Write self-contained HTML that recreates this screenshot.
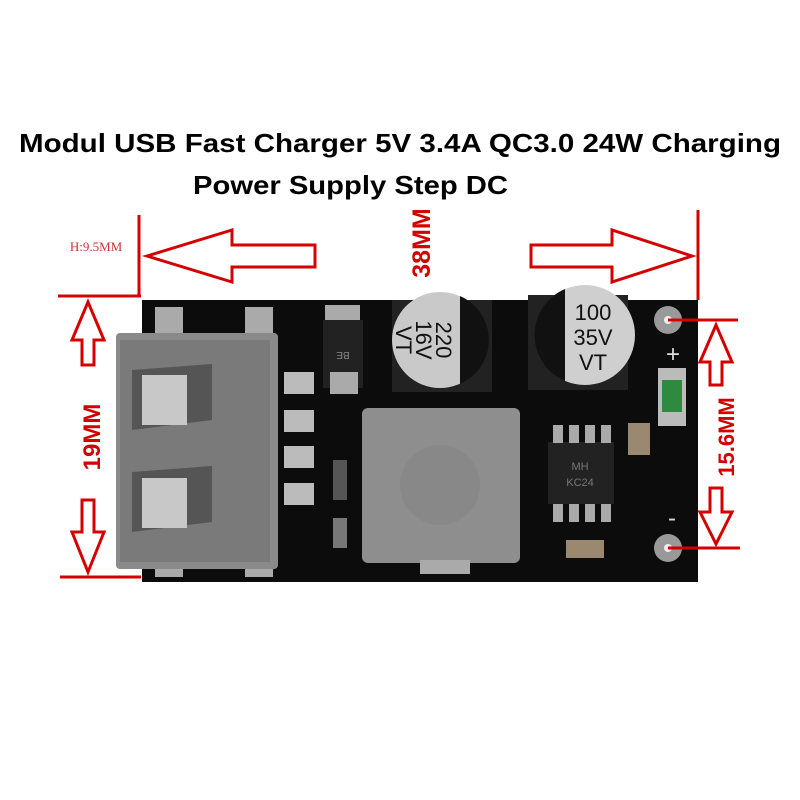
<!DOCTYPE html>
<html><head><style>
html,body{margin:0;padding:0;background:#fff;width:800px;height:800px;overflow:hidden}
</style></head><body>
<svg width="800" height="800" viewBox="0 0 800 800" xmlns="http://www.w3.org/2000/svg">
<rect width="800" height="800" fill="#fff"/>
<text x="19" y="152" textLength="762" lengthAdjust="spacingAndGlyphs" font-family="Liberation Sans, DejaVu Sans, sans-serif" font-weight="bold" font-size="26" fill="#000">Modul USB Fast Charger 5V 3.4A QC3.0 24W Charging</text>
<text x="193" y="194" textLength="315" lengthAdjust="spacingAndGlyphs" font-family="Liberation Sans, DejaVu Sans, sans-serif" font-weight="bold" font-size="26" fill="#000">Power Supply Step DC</text>

<rect x="142" y="300" width="556" height="282" fill="#0c0c0c"/>
<rect x="155" y="307" width="28" height="30" fill="#aaa"/>
<rect x="245" y="307" width="28" height="30" fill="#aaa"/>
<rect x="155" y="515" width="28" height="62" fill="#aaa"/>
<rect x="245" y="530" width="28" height="47" fill="#aaa"/>
<rect x="116" y="333" width="162" height="236" rx="4" fill="#8a8a8a"/>
<rect x="120" y="340" width="150" height="222" fill="#7a7a7a"/>
<path d="M132 370 L212 364 L212 420 L132 430 Z" fill="#555"/>
<rect x="142" y="375" width="45" height="50" fill="#c8c8c8"/>
<path d="M132 472 L212 466 L212 522 L132 532 Z" fill="#555"/>
<rect x="142" y="478" width="45" height="50" fill="#c8c8c8"/>
<rect x="284" y="372" width="30" height="22" fill="#bbb"/>
<rect x="284" y="410" width="30" height="22" fill="#bbb"/>
<rect x="284" y="446" width="30" height="22" fill="#bbb"/>
<rect x="284" y="483" width="30" height="22" fill="#bbb"/>
<rect x="325" y="305" width="35" height="22" fill="#aaa"/>
<rect x="323" y="320" width="40" height="68" fill="#222"/>
<text x="343" y="352" text-anchor="middle" font-family="Liberation Sans,sans-serif" font-size="10" fill="#888" transform="rotate(180 343 352)">BE</text>
<rect x="330" y="372" width="28" height="22" fill="#aaa"/>
<rect x="392" y="300" width="100" height="92" fill="#222"/>
<circle cx="440" cy="340" r="48" fill="#c9c9c9"/>
<path d="M460 296 A48 48 0 0 1 460 384 Z" fill="#111"/>
<g transform="rotate(90 428 340)" font-family="Liberation Sans,sans-serif" font-size="22" fill="#111" text-anchor="middle">
<text x="428" y="332">220</text>
<text x="428" y="352">16V</text>
<text x="428" y="372">VT</text>
</g>
<rect x="528" y="295" width="100" height="95" fill="#222"/>
<circle cx="585" cy="335" r="50" fill="#cfcfcf"/>
<path d="M565 289 A50 50 0 0 0 565 381 Z" fill="#111"/>
<text x="593" y="320" text-anchor="middle" font-family="Liberation Sans,sans-serif" font-size="22" fill="#111">100</text>
<text x="593" y="345" text-anchor="middle" font-family="Liberation Sans,sans-serif" font-size="22" fill="#111">35V</text>
<text x="593" y="370" text-anchor="middle" font-family="Liberation Sans,sans-serif" font-size="22" fill="#111">VT</text>
<rect x="362" y="408" width="158" height="155" rx="6" fill="#8e8e8e"/>
<circle cx="440" cy="485" r="40" fill="#888"/>
<rect x="420" y="560" width="50" height="14" fill="#aaa"/>
<rect x="548" y="442" width="66" height="62" fill="#222"/>
<rect x="553" y="425" width="10" height="18" fill="#aaa"/><rect x="569" y="425" width="10" height="18" fill="#aaa"/><rect x="585" y="425" width="10" height="18" fill="#aaa"/><rect x="601" y="425" width="10" height="18" fill="#aaa"/>
<rect x="553" y="504" width="10" height="18" fill="#aaa"/><rect x="569" y="504" width="10" height="18" fill="#aaa"/><rect x="585" y="504" width="10" height="18" fill="#aaa"/><rect x="601" y="504" width="10" height="18" fill="#aaa"/>
<text x="580" y="470" text-anchor="middle" font-family="Liberation Sans,sans-serif" font-size="11" fill="#777">MH</text>
<text x="580" y="486" text-anchor="middle" font-family="Liberation Sans,sans-serif" font-size="11" fill="#777">KC24</text>
<rect x="628" y="423" width="22" height="32" fill="#9a8870"/>
<rect x="658" y="368" width="28" height="58" fill="#bbb"/>
<rect x="662" y="380" width="20" height="32" fill="#2e8a3e"/>
<rect x="566" y="540" width="38" height="18" fill="#9a8870"/>
<rect x="333" y="460" width="14" height="40" fill="#555"/>
<rect x="333" y="518" width="14" height="30" fill="#777"/>
<circle cx="668" cy="320" r="14" fill="#999"/><circle cx="668" cy="320" r="4" fill="#eee"/>
<circle cx="668" cy="548" r="14" fill="#999"/><circle cx="668" cy="548" r="4" fill="#eee"/>
<text x="673" y="362" text-anchor="middle" font-family="Liberation Sans,sans-serif" font-size="24" fill="#ddd">+</text>
<text x="672" y="526" text-anchor="middle" font-family="Liberation Sans,sans-serif" font-size="24" fill="#ddd">-</text>

<g stroke="#d40000" stroke-width="3" fill="none">
<line x1="139" y1="215" x2="139" y2="296"/>
<line x1="58" y1="296" x2="141" y2="296"/>
<line x1="698" y1="210" x2="698" y2="300"/>
<line x1="60" y1="577" x2="141" y2="577"/>
<line x1="668" y1="320" x2="738" y2="320"/>
<line x1="668" y1="548" x2="740" y2="548"/>
<path d="M147 256 L232 230 L232 245 L315 245 L315 267 L232 267 L232 282 Z"/>
<path d="M692 256 L612 230 L612 245 L531 245 L531 267 L612 267 L612 282 Z"/>
<path d="M88 302 L72 340 L82 340 L82 365 L94 365 L94 340 L104 340 Z"/>
<path d="M88 572 L72 532 L82 532 L82 500 L94 500 L94 532 L104 532 Z"/>
<path d="M716 325 L700 362 L710 362 L710 385 L722 385 L722 362 L732 362 Z"/>
<path d="M716 544 L700 512 L710 512 L710 488 L722 488 L722 512 L732 512 Z"/>
</g>
<text x="96" y="251" text-anchor="middle" font-family="Liberation Serif,serif" font-size="13" fill="#c33">H:9.5MM</text>
<text transform="translate(430 243) rotate(-90)" text-anchor="middle" font-family="Liberation Sans,sans-serif" font-weight="bold" font-size="25" fill="#d40000">38MM</text>
<text transform="translate(100 437) rotate(-90)" text-anchor="middle" font-family="Liberation Sans,sans-serif" font-weight="bold" font-size="24" fill="#d40000">19MM</text>
<text transform="translate(734 437) rotate(-90)" text-anchor="middle" font-family="Liberation Sans,sans-serif" font-weight="bold" font-size="22" fill="#d40000">15.6MM</text>
</svg>
</body></html>
